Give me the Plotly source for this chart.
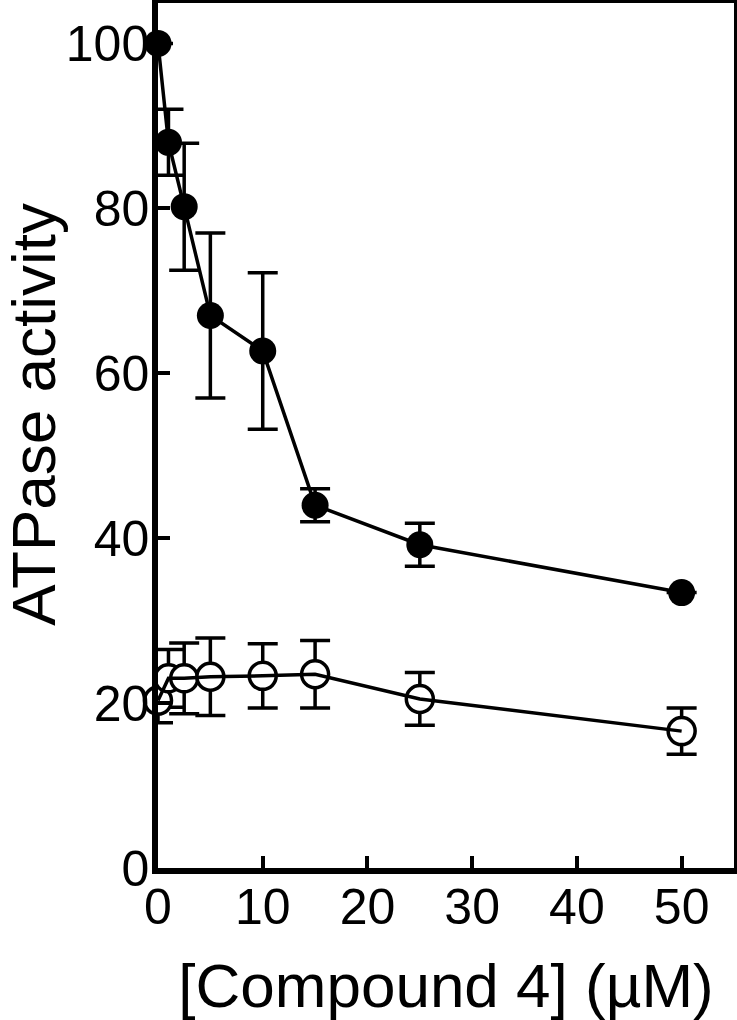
import plotly.graph_objs as go

# concentration of compound 4 (uM)
conc = [0, 1, 2.5, 5, 10, 15, 25, 50]

# filled circles
act_filled = [100, 88, 80.2, 67, 62.7, 44, 39.2, 33.4]
err_filled = [0, 4, 7.7, 10, 9.5, 2, 2.6, 0]

# open circles
act_open = [20.3, 23, 23, 23.2, 23.3, 23.5, 20.5, 16.6]
err_open = [2.7, 3.5, 4.3, 4.7, 3.9, 4.1, 3.2, 2.8]

font_name = "Liberation Sans, Arial, sans-serif"

trace_filled = go.Scatter(
    x=conc, y=act_filled, mode='lines+markers',
    line=dict(color='black', width=3.5),
    marker=dict(symbol='circle', size=27, color='black'),
    error_y=dict(type='data', array=err_filled, color='black', thickness=3.5, width=15),
    cliponaxis=False)

trace_open = go.Scatter(
    x=conc, y=act_open, mode='markers',
    marker=dict(symbol='circle', size=27, color='white',
                line=dict(color='black', width=3.5)),
    error_y=dict(type='data', array=err_open, color='black', thickness=3.5, width=15),
    cliponaxis=False)

trace_open_line = go.Scatter(
    x=conc, y=act_open, mode='lines',
    line=dict(color='black', width=3.5),
    cliponaxis=False)

layout = go.Layout(
    width=737, height=1020,
    margin=dict(l=158, r=3, t=3, b=152),
    paper_bgcolor='white', plot_bgcolor='white',
    showlegend=False,
    font=dict(family=font_name, color='black'),
    xaxis=dict(range=[0, 55], tickvals=[0, 10, 20, 30, 40, 50],
               ticks='inside', ticklen=12, tickwidth=4, tickcolor='black',
               showline=True, linewidth=5.5, linecolor='black', mirror=True,
               showgrid=False, zeroline=False, automargin=False,
               tickfont=dict(size=50), ticklabelstandoff=-10,
               title=dict(text='[Compound 4] (µM)', font=dict(size=62), standoff=40)),
    yaxis=dict(range=[0, 104.9], tickvals=[0, 20, 40, 60, 80, 100],
               ticks='inside', ticklen=12, tickwidth=4, tickcolor='black',
               showline=True, linewidth=5.5, linecolor='black', mirror=True,
               showgrid=False, zeroline=False, automargin=False,
               tickfont=dict(size=50), ticklabelstandoff=-7),
    # y title as annotation so it can sit close to the page edge
    annotations=[dict(text='ATPase activity', textangle=-90, showarrow=False,
                      xref='paper', yref='paper', x=0, y=0.524,
                      xanchor='center', yanchor='middle', xshift=-124,
                      font=dict(size=62))])

fig = go.Figure(data=[trace_filled, trace_open, trace_open_line], layout=layout)
fig.write_html("out.html", config={'displayModeBar': False},
               post_script="document.body.style.margin='0';document.body.style.overflow='hidden';")
